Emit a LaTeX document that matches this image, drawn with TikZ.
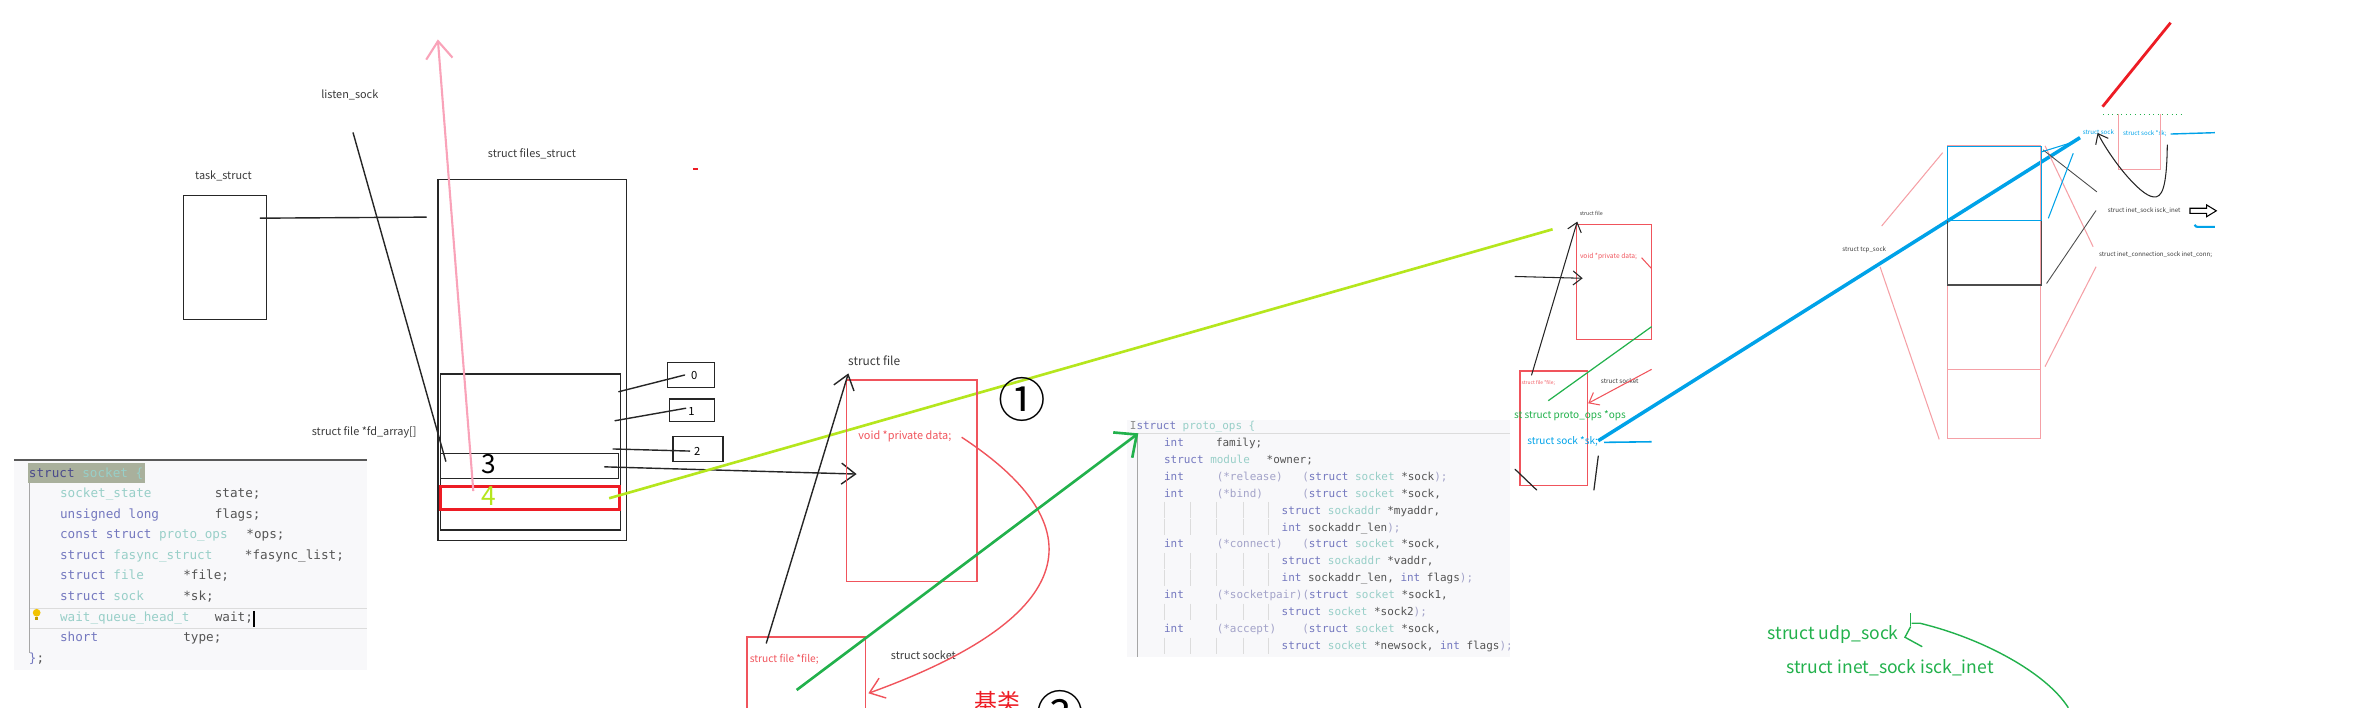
\documentclass[tikz,border=0pt]{standalone}
\usepackage{fontspec}
\setmainfont{Noto Sans CJK SC}
\setmonofont{DejaVu Sans Mono}
\usetikzlibrary{arrows.meta, fit}
\definecolor{pnLime}{HTML}{B5E61D}
\definecolor{pnGreen}{HTML}{22B14C}
\definecolor{pnBlue}{HTML}{00A2E8}
\definecolor{pnRed}{HTML}{ED1C24}
\definecolor{pnPink}{HTML}{F9A3B9}
\definecolor{boxRed}{HTML}{F0545C}
\definecolor{lightRed}{HTML}{F5A0A6}
\definecolor{txtGray}{HTML}{3A3A3A}
\definecolor{codeKw}{HTML}{7478BF}
\definecolor{codeKwD}{HTML}{4A4A8C}
\definecolor{codeTy}{HTML}{98CFC8}
\definecolor{codeFn}{HTML}{A3A3C9}
\definecolor{codeId}{HTML}{555555}
\definecolor{codeBg}{HTML}{F8F8FA}
\definecolor{codeHl}{HTML}{A9B09C}
\definecolor{codeGuide}{HTML}{DCDCDC}
\definecolor{bulbYellow}{HTML}{F2C200}
\newcommand{\fsz}[1]{\fontsize{#1}{#1}\selectfont}
\newcommand{\kwc}[1]{\textcolor{codeKw}{#1}}
\newcommand{\tyc}[1]{\textcolor{codeTy}{#1}}
\newcommand{\fnc}[1]{\textcolor{codeFn}{#1}}

\begin{document}
\begin{tikzpicture}[x=0.015026cm, y=-0.015026cm,
    every node/.style={inner sep=0pt, outer sep=0pt},
    lbl/.style={font=\fsz{3.1}, text=txtGray},
    tinylbl/.style={font=\fsz{1.75}, text=txtGray},
    kbox/.style={draw=black!85, line width=0.4pt},
    rbox/.style={draw=boxRed, line width=0.45pt},
    pline/.style={draw=lightRed, line width=0.3pt},
    ln/.style={draw=black!85, line width=0.4pt, line cap=round},
    arr/.style={-{Straight Barb[length=4pt, width=6pt]}},
    codeA/.style={font=\ttfamily\fsz{3.6}, text=codeId, anchor=base west},
    codeB/.style={font=\ttfamily\fsz{3.12}, text=codeId, anchor=base west},
    guide/.style={draw=codeGuide, line width=0.25pt}
  ]
  \useasboundingbox (0,0) rectangle (1568,471);

  % --- code: struct socket ---
  \node[fill=codeBg, fit={(9.3,306) (244,446)}] (sockBg) {};
  \draw[draw=black!65, line width=0.45pt] (sockBg.north west) -- (sockBg.north east);
  \node[fill=codeHl, fit={(18.9,308.4) (96.5,321.2)}] (sockHl) {};
  \draw[draw=black!35, line width=0.3pt] (19.5,321.6) -- (19.5,434.8);
  \draw[guide] (20,404.9) -- (244,404.9) (20,418.2) -- (244,418.2);
  \node[codeA, text=codeKwD] (sockHead) at (19.3,317.5) {struct \tyc{socket \{}};
  \foreach \fldT/\fldN/\fldX [count=\i] in {
      {\tyc{socket\_state}}/{state;}/143,
      {\kwc{unsigned long}}/{flags;}/143,
      {\kwc{const struct} \tyc{proto\_ops}}/{*ops;}/164,
      {\kwc{struct} \tyc{fasync\_struct}}/{*fasync\_list;}/163,
      {\kwc{struct} \tyc{file}}/{*file;}/122,
      {\kwc{struct} \tyc{sock}}/{*sk;}/122,
      {\tyc{wait\_queue\_head\_t}}/{wait;}/143,
      {\kwc{short}}/{type;}/122}{
    \node[codeA] (sockT\i) at (40,317.5+13.7*\i) {\fldT};
    \node[codeA] (sockN\i) at (\fldX,317.5+13.7*\i) {\fldN};
  }
  \node[codeA] (sockEnd) at (19.3,440.8) {\kwc{\}};};
  \fill[bulbYellow] (24.4,407.8) circle (1.1pt);
  \fill[bulbYellow!80!black] (23.4,410.5) rectangle (25.4,412.8);
  \draw[black, line width=0.35pt] (169,406.5) -- (169,417.5);

  % --- code: struct proto_ops ---
  \node[fill=codeBg, fit={(750,279.5) (1005,437)}] (opsBg) {};
  \draw[guide] (757,288.4) -- (1005,288.4);
  \draw[draw=black!35, line width=0.3pt] (757,288.4) -- (757,437);
  \node[codeB] (opsHead) at (752,285.8) {\textcolor{black!45}{I}\kwc{struct} \tyc{proto\_ops \{}};
  \foreach \oRow/\oX/\oTxt [count=\k] in {
      1/774.7/{\kwc{int}}, 1/809.3/{family;},
      2/774.7/{\kwc{struct} \tyc{module}}, 2/843/{*owner;},
      3/774.7/{\kwc{int}}, 3/809.8/{\fnc{(*release)}}, 3/866.7/{\fnc{(}\kwc{struct} \tyc{socket} *sock\fnc{);}},
      4/774.7/{\kwc{int}}, 4/809.8/{\fnc{(*bind)}}, 4/866.7/{\fnc{(}\kwc{struct} \tyc{socket} *sock,},
      5/853/{\kwc{struct} \tyc{sockaddr} *myaddr,},
      6/853/{\kwc{int} sockaddr\_len\fnc{);}},
      7/774.7/{\kwc{int}}, 7/809.8/{\fnc{(*connect)}}, 7/866.7/{\fnc{(}\kwc{struct} \tyc{socket} *sock,},
      8/853/{\kwc{struct} \tyc{sockaddr} *vaddr,},
      9/853/{\kwc{int} sockaddr\_len, \kwc{int} flags\fnc{);}},
      10/774.7/{\kwc{int}}, 10/809.8/{\fnc{(*socketpair)(}\kwc{struct} \tyc{socket} *sock1,},
      11/853/{\kwc{struct} \tyc{socket} *sock2\fnc{);}},
      12/774.7/{\kwc{int}}, 12/809.8/{\fnc{(*accept)}}, 12/866.7/{\fnc{(}\kwc{struct} \tyc{socket} *sock,},
      13/853/{\kwc{struct} \tyc{socket} *newsock, \kwc{int} flags\fnc{);}}}{
    \node[codeB] (ops\k) at (\oX,285.6+11.3*\oRow) {\oTxt};
  }
  \foreach \oRow in {5,6,8,9,11,13}
    \foreach \gx in {775,792,809.7,827.4,844.1}
      \draw[guide] (\gx,277.5+11.3*\oRow) -- ++(0,11);

  % --- task_struct / files_struct ---
  \node[lbl] (listenLbl) at (232.8,63) {listen\_sock};
  \node[lbl] (taskLbl) at (148.7,117) {task\_struct};
  \node[lbl] (filesLbl) at (354,102.2) {struct files\_struct};
  \node[lbl] (fdLbl) at (242.4,287.8) {struct file *fd\_array[]};
  \node[kbox, fit={(122.3,130) (177.2,212.7)}] (task) {};
  \node[kbox, fit={(291.4,119.6) (417.1,359.6)}] (files) {};
  \node[kbox, fit={(293.2,248.9) (413.1,352.7)}] (fdArr) {};
  \node[kbox, fit={(293.2,301.9) (411.6,318.5)}] (fd3) {};
  \node[draw=pnRed, line width=0.85pt, fit={(292.9,323.7) (412.1,339.2)}] (fd4) {};
  \node[font=\fsz{7.5}] (num3) at (325.2,309) {3};
  \node[font=\fsz{7.5}, text=pnLime] (num4) at (325.2,329.9) {4};
  \node[kbox, fit={(444.2,241.3) (475.5,257.9)}] (slot0) {};
  \node[kbox, fit={(445.4,265.5) (475.5,280.5)}] (slot1) {};
  \node[kbox, fit={(448,290.4) (481.1,307.3)}] (slot2) {};
  \node[font=\fsz{3.2}] (num0) at (462,249.6) {0};
  \node[font=\fsz{3.2}] (num1) at (460.2,273.8) {1};
  \node[font=\fsz{3.2}] (num2) at (464,300.2) {2};
  \draw[pnRed, line width=0.7pt] (461.3,112.4) -- (464.3,112.4);

  \coordinate (taskOut) at (173.2,145.2);  \coordinate (filesIn) at (283.7,144.5);
  \coordinate (listenTop) at (235,88.4);   \coordinate (listenEnd) at (296.7,307);
  \coordinate (pinkTail) at (315,326.8);   \coordinate (pinkTip) at (291.4,26.2);
  \coordinate (fdOut0) at (411.8,260.7);   \coordinate (slotIn0) at (455.6,249.6);
  \coordinate (fdOut1) at (409.3,280);     \coordinate (slotIn1) at (456.4,271.7);
  \coordinate (fdOut2) at (408,298.8);     \coordinate (slotIn2) at (459,300.2);
  \coordinate (fdOut3) at (402.4,310.7);   \coordinate (fileIn) at (570.1,315.5);
  \coordinate (limeA) at (405.4,331.6);    \coordinate (limeB) at (1033.3,152.6);

  \draw[ln] (taskOut) -- (filesIn);
  \draw[ln] (listenTop) -- (listenEnd);
  \draw[ln] (fdOut0) -- (slotIn0);
  \draw[ln] (fdOut1) -- (slotIn1);
  \draw[ln] (fdOut2) -- (slotIn2);
  \draw[ln, arr] (fdOut3) -- (fileIn);
  \draw[pnPink, line width=0.6pt, -{Straight Barb[length=5pt, width=7.5pt]}] (pinkTail) -- (pinkTip);
  \draw[pnLime, line width=0.75pt] (limeA) -- (limeB);

  % --- struct file / struct socket ---
  \node[lbl, font=\fsz{3.4}] (fileLbl) at (581.8,240) {struct file};
  \node[rbox, fit={(563.5,252.9) (650.4,387.1)}] (fileBox) {};
  \node[lbl, text=boxRed, anchor=west] (privLbl) at (571.2,290.2) {void *private data;};
  \node[rbox, fit={(497,424) (576,495)}] (sockBox) {};
  \node[lbl, text=boxRed, font=\fsz{2.9}, anchor=west] (fileFld) at (499,438.6) {struct file *file;};
  \node[lbl] (sockLbl) at (614.5,436) {struct socket};
  \node[font=\fsz{13.5}] (stepOne) at (680,266) {①};
  \node[font=\fsz{6.5}, text=pnRed] (baseLbl) at (664,467) {基类};
  \node[font=\fsz{13.5}] (stepTwo) at (705.6,474) {②};

  \coordinate (fileUpA) at (510,428);   \coordinate (fileUpB) at (564.6,248.5);
  \coordinate (privOut) at (640,291);   \coordinate (sockIn) at (577.9,461.4);
  \coordinate (greenA) at (530.2,459.2); \coordinate (greenB) at (757.6,288.4);
  \draw[ln, arr] (fileUpA) -- (fileUpB);
  \draw[boxRed, line width=0.4pt, arr] (privOut) .. controls (730,350) and (720,410) .. (sockIn);
  \draw[pnGreen, line width=0.75pt, -{Straight Barb[length=5pt, width=9pt]}] (greenA) -- (greenB);

  % --- small copy on the right ---
  \node[font=\fsz{1.5}, text=txtGray] (fileLblR) at (1059,142) {struct file};
  \node[rbox, line width=0.3pt, fit={(1049.3,149.3) (1098.8,225.8)}] (fileBoxR) {};
  \node[font=\fsz{1.9}, text=boxRed] (privLblR) at (1070.5,170.8) {void *private data;};
  \node[rbox, line width=0.3pt, fit={(1011.6,246.9) (1056.4,322.8)}] (sockBoxR) {};
  \node[font=\fsz{1.4}, text=boxRed, anchor=west] (fileFldR) at (1012.7,255) {struct file *file;};
  \node[font=\fsz{1.8}, text=txtGray] (sockLblR) at (1078,253.6) {struct socket};
  \node[font=\fsz{2.85}, text=pnGreen] (opsFldR) at (1044.8,276.9) {st struct proto\_ops *ops};
  \node[font=\fsz{2.85}, text=pnBlue] (skFldR) at (1040,293.5) {struct sock *sk;};

  \coordinate (inA) at (1008.3,184);     \coordinate (inB) at (1053.3,185.2);
  \coordinate (upA) at (1019.3,249.6);   \coordinate (upB) at (1049.7,147.5);
  \coordinate (redA) at (1099.2,245.8);  \coordinate (redB) at (1057,268.4);
  \coordinate (grA) at (1030.4,266.7);   \coordinate (grB) at (1099.2,217.4);
  \coordinate (privA) at (1092.5,171.5); \coordinate (privB) at (1099,178.6);
  \coordinate (skA) at (1067.5,294.4);   \coordinate (skB) at (1099.2,294);
  \coordinate (blueA) at (1063.7,293.3); \coordinate (blueB) at (1384.3,91.6);
  \draw[ln, line width=0.3pt, -{Straight Barb[length=2.5pt, width=4pt]}] (inA) -- (inB);
  \draw[ln, line width=0.3pt, -{Straight Barb[length=2.5pt, width=4pt]}] (upA) -- (upB);
  \draw[boxRed, line width=0.3pt, -{Straight Barb[length=2.5pt, width=4pt]}] (redA) -- (redB);
  \draw[pnGreen, line width=0.35pt] (grA) -- (grB);
  \draw[boxRed, line width=0.3pt] (privA) -- (privB);
  \draw[pnBlue, line width=0.45pt] (skA) -- (skB);
  \draw[pnBlue, line width=1pt] (blueA) -- (blueB);
  \draw[ln, line width=0.35pt] (1008.3,312.3) -- (1022.7,326.1);
  \draw[ln, line width=0.35pt] (1063.7,303.5) -- (1060.8,326.1);

  % --- tcp_sock layout ---
  \node[tinylbl] (tcpLbl) at (1240.7,166.4) {struct tcp\_sock};
  \node[pline, fit={(1296,97) (1358.3,291.7)}] (tcpBox) {};
  \draw[pline] (1296,246.2) -- (1358.3,246.2);
  \node[draw=black!70, line width=0.35pt, fit={(1296,97.6) (1358.7,189.7)}] (connBox) {};
  \node[draw=pnBlue, line width=0.35pt, fit={(1296,97.6) (1358.7,146.9)}] (inetBox) {};
  \draw[pline] (1252.3,150.4) -- (1292.9,101.6);
  \draw[pline] (1251.2,177.5) -- (1290.6,292.4);
  \draw[pline] (1361,97) -- (1393,164.2);
  \draw[pline] (1361,244) -- (1395,177.5);
  \draw[ln, line width=0.25pt, draw=black!70] (1359.8,99.8) -- (1395.4,127.6);
  \draw[ln, line width=0.25pt, draw=black!70] (1362.1,188.6) -- (1394.9,140.2);
  \draw[pnBlue, line width=0.3pt] (1359,101) -- (1380,94.5);
  \draw[pnBlue, line width=0.3pt] (1363.2,145.3) -- (1379.8,102);

  \node[tinylbl, text=pnBlue] (sockLblT) at (1396.5,88) {struct sock};
  \node[tinylbl, text=pnBlue] (skFldT) at (1427.5,88.7) {struct sock *sk;};
  \node[tinylbl] (inetLbl) at (1427,140.2) {struct inet\_sock isck\_inet};
  \node[tinylbl] (connLbl) at (1434.6,169.7) {struct inet\_connection\_sock inet\_conn;};
  \draw[pline] (1410.2,76.1) -- (1410.2,113.1) -- (1438,113.1) -- (1438,76.1);
  \draw[pnGreen, line width=0.3pt, densely dotted] (1399.6,76) -- (1453.5,76);
  \draw[pnRed, line width=0.8pt] (1399.3,71) -- (1444.6,15.1);
  \draw[pnBlue, line width=0.4pt] (1444.6,89.2) -- (1474,88.3);
  \coordinate (curlA) at (1442.4,96.5); \coordinate (curlB) at (1396,88.5);
  \draw[ln, line width=0.3pt, -{Straight Barb[length=2.5pt, width=4pt]}]
    (curlA) .. controls (1442,125) and (1439,132) .. (1433,131)
    .. controls (1424,130) and (1405,106) .. (curlB);
  \draw[line width=0.3pt] (1457.5,138.6) -- (1468.6,138.6) -- (1468.6,136.4) -- (1475,140.3)
    -- (1468.6,144.2) -- (1468.6,142) -- (1457.5,142) -- cycle;
  \draw[pnBlue, line width=0.6pt] (1460.5,149.6) .. controls (1461.5,151) .. (1464,151) -- (1474,151);

  % --- udp_sock note ---
  \node[font=\fsz{5}, text=pnGreen] (udpLbl) at (1220,422.2) {struct udp\_sock};
  \node[font=\fsz{5}, text=pnGreen] (inetLblG) at (1257.8,444.3) {struct inet\_sock isck\_inet};
  \coordinate (udpA) at (1376.5,471); \coordinate (udpB) at (1272.2,414.8);
  \draw[pnGreen, line width=0.4pt] (udpA) .. controls (1362,448) and (1320,425) .. (1277.8,414.8) -- (udpB);
  \draw[pnGreen, line width=0.4pt] (1271.6,408.2) -- (1271.6,416.5);
  \draw[pnGreen, line width=0.4pt] (1271.6,417) -- (1267.8,424.1) -- (1279.3,430.4);
\end{tikzpicture}
\end{document}
